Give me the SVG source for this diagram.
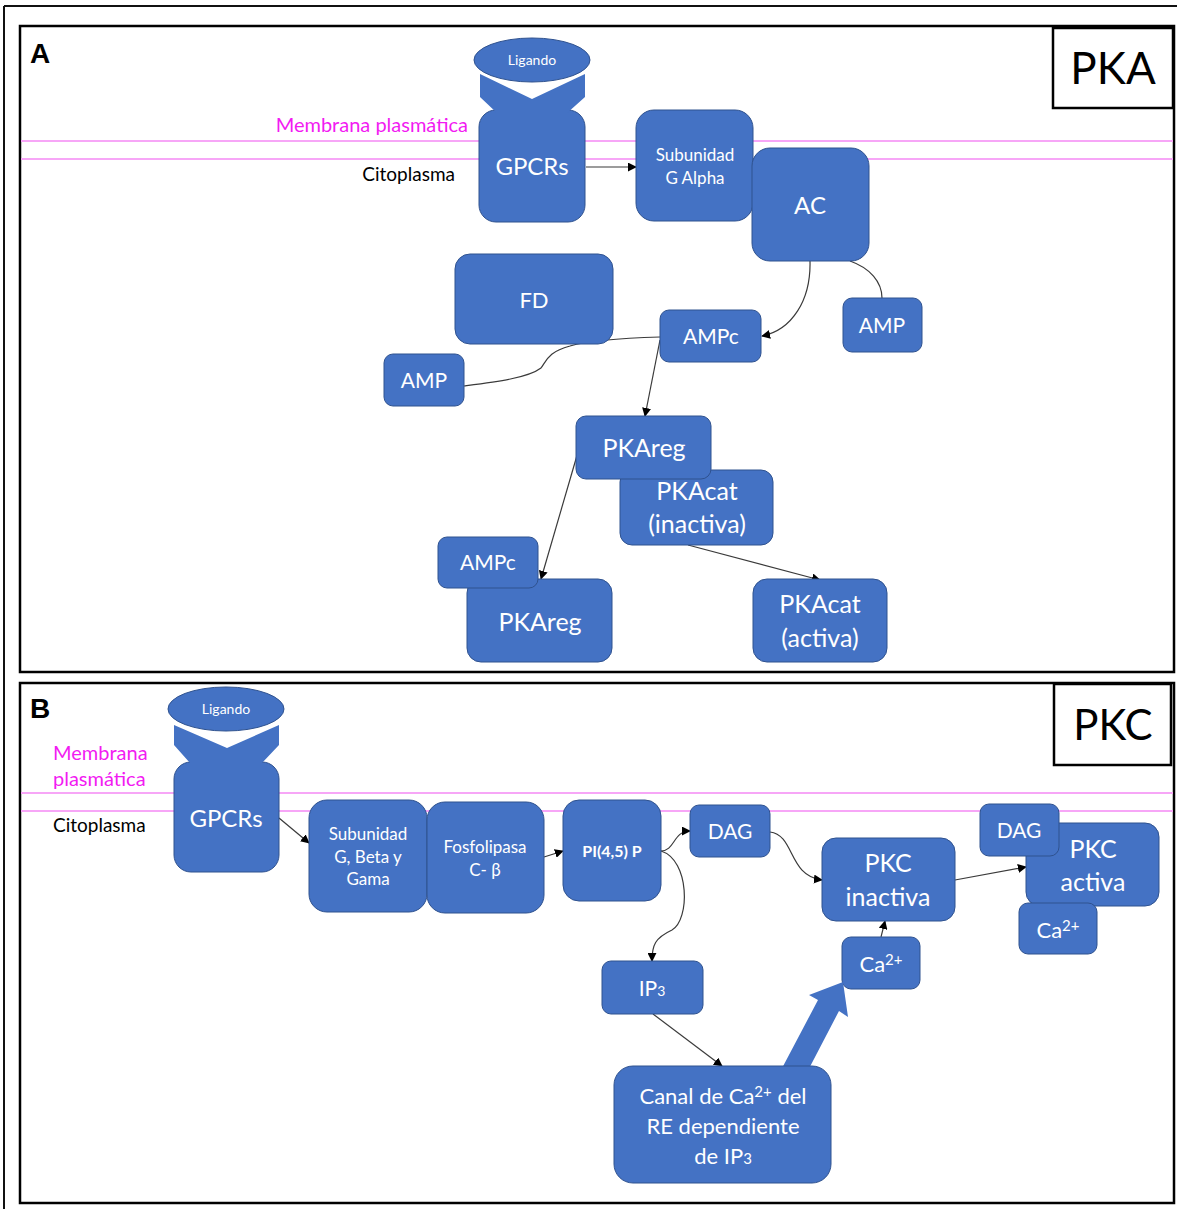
<svg xmlns="http://www.w3.org/2000/svg" width="1178" height="1209" viewBox="0 0 1178 1209">
<defs>
<style>
.node{fill:#4472C4;stroke:#2F528F;stroke-width:1}
.t{fill:#fff;font-family:Lato,"Noto Sans",sans-serif;text-anchor:middle}
.frame{fill:none;stroke:#000;stroke-width:2.5}
.mem{stroke:#F7A6F7;stroke-width:2}
.mag{fill:#F21BF2;font-family:Lato,"Noto Sans",sans-serif;font-size:20px}
.blk{fill:#000;font-family:Lato,"Noto Sans",sans-serif;font-size:19px}
.c{fill:none;stroke:#3a3a3a;stroke-width:1.2}
.ca{fill:none;stroke:#3a3a3a;stroke-width:1.2;marker-end:url(#ah)}
</style>
<marker id="ah" viewBox="0 0 10 10" refX="9" refY="5" markerWidth="9" markerHeight="9" markerUnits="userSpaceOnUse" orient="auto">
<path d="M0,0 L10,5 L0,10 z" fill="#000"/>
</marker>
</defs>
<rect width="1178" height="1209" fill="#fff"/>
<line x1="4" y1="6" x2="1177" y2="6" stroke="#111" stroke-width="2"/>
<line x1="4" y1="6" x2="4" y2="1209" stroke="#111" stroke-width="2"/>

<g id="panelA">
<rect class="frame" x="20" y="26" width="1154" height="646"/>
<text x="30" y="63" font-family="Liberation Sans,Arial,sans-serif" font-weight="bold" font-size="28">A</text>
<rect x="1053" y="28" width="120" height="80" fill="#fff" stroke="#000" stroke-width="2.5"/>
<text x="1113" y="84" font-family="Lato,'Noto Sans',sans-serif" font-size="44" text-anchor="middle" fill="#000">PKA</text>
<line class="mem" x1="21" y1="141" x2="1173" y2="141"/>
<line class="mem" x1="21" y1="159" x2="1173" y2="159"/>
<text class="mag" x="468" y="132" text-anchor="end">Membrana plasmática</text>
<text class="blk" x="455" y="181" text-anchor="end">Citoplasma</text>
</g>

<g id="connectorsA">
<path class="ca" d="M586,167 L636,167"/>
<path class="ca" d="M810,261 C811,300 792,330 762,336"/>
<path class="c" d="M850,261 C870,268 882,282 882,298"/>
<path class="c" d="M660,337 C625,338 590,340 570,346 C548,352 547,360 541,368 C528,378 495,382 464,386"/>
<path class="ca" d="M660,340 L645,416"/>
<path class="ca" d="M578,452 L541,579"/>
<path class="ca" d="M688,545 L820,580"/>
</g>

<g id="gpcrA">
<rect class="node" x="479" y="110" width="106" height="112" rx="17"/>
<polygon points="480,74 532,99 585,74 585,97 566,114 498,114 480,97" fill="#4472C4"/>
<ellipse class="node" cx="532" cy="60" rx="58" ry="22"/>
<text class="t" x="532" y="65" font-size="14">Ligando</text>
<text class="t" x="532" y="175" font-size="24">GPCRs</text>
</g>
<g id="subAlpha">
<rect class="node" x="636" y="110" width="117" height="111" rx="18"/>
<text class="t" x="695" y="161" font-size="17">Subunidad</text>
<text class="t" x="695" y="184" font-size="17">G Alpha</text>
</g>
<g id="AC">
<rect class="node" x="752" y="148" width="117" height="113" rx="18"/>
<text class="t" x="810" y="214" font-size="24">AC</text>
</g>
<g id="FD">
<rect class="node" x="455" y="254" width="158" height="90" rx="15"/>
<text class="t" x="534" y="308" font-size="22">FD</text>
</g>
<g id="AMPc1">
<rect class="node" x="660" y="310" width="101" height="52" rx="9"/>
<text class="t" x="711" y="344" font-size="21">AMPc</text>
</g>
<g id="AMP1">
<rect class="node" x="843" y="298" width="79" height="54" rx="9"/>
<text class="t" x="882" y="333" font-size="21">AMP</text>
</g>
<g id="AMP2">
<rect class="node" x="384" y="354" width="80" height="52" rx="9"/>
<text class="t" x="424" y="388" font-size="21">AMP</text>
</g>
<g id="PKAcatInactiva">
<rect class="node" x="620" y="470" width="153" height="75" rx="12"/>
<text class="t" x="697" y="500" font-size="25">PKAcat</text>
<text class="t" x="697" y="533" font-size="25">(inactiva)</text>
</g>
<g id="PKAreg1">
<rect class="node" x="576" y="416" width="135" height="63" rx="10"/>
<text class="t" x="644" y="457" font-size="25">PKAreg</text>
</g>
<g id="PKAreg2">
<rect class="node" x="467" y="579" width="145" height="83" rx="14"/>
<text class="t" x="540" y="631" font-size="25">PKAreg</text>
</g>
<g id="AMPc2">
<rect class="node" x="438" y="537" width="100" height="51" rx="9"/>
<text class="t" x="488" y="570" font-size="21">AMPc</text>
</g>
<g id="PKAcatActiva">
<rect class="node" x="753" y="579" width="134" height="83" rx="14"/>
<text class="t" x="820" y="613" font-size="25">PKAcat</text>
<text class="t" x="820" y="647" font-size="25">(activa)</text>
</g>

<g id="panelB">
<rect class="frame" x="20" y="683" width="1154" height="520"/>
<text x="30" y="718" font-family="Liberation Sans,Arial,sans-serif" font-weight="bold" font-size="28">B</text>
<rect x="1054" y="684" width="117" height="81" fill="#fff" stroke="#000" stroke-width="2.5"/>
<text x="1113" y="740" font-family="Lato,'Noto Sans',sans-serif" font-size="42" text-anchor="middle" fill="#000">PKC</text>
<line class="mem" x1="21" y1="793" x2="1173" y2="793"/>
<line class="mem" x1="21" y1="811" x2="1173" y2="811"/>
<text class="mag" x="53" y="760">Membrana</text>
<text class="mag" x="53" y="786">plasmática</text>
<text class="blk" x="53" y="832">Citoplasma</text>
</g>

<g id="connectorsB">
<path class="ca" d="M279,818 L309,843"/>
<path class="ca" d="M544,857 L563,851"/>
<path class="ca" d="M661,851 C675,851 673,831 690,831"/>
<path class="ca" d="M661,851 C690,860 690,920 672,930 C655,938 652,945 652,961"/>
<path class="ca" d="M770,832 C795,835 788,876 822,880"/>
<path class="ca" d="M881,937 L885,921"/>
<path class="ca" d="M955,880 L1026,867"/>
<path class="ca" d="M653,1014 L722,1066"/>
</g>

<g id="gpcrB">
<rect class="node" x="174" y="762" width="105" height="110" rx="17"/>
<polygon points="174,725 227,748 279,725 279,745 262,763 190,763 174,745" fill="#4472C4"/>
<ellipse class="node" cx="226" cy="709" rx="58" ry="22"/>
<text class="t" x="226" y="714" font-size="14">Ligando</text>
<text class="t" x="226" y="827" font-size="24">GPCRs</text>
</g>
<g id="subBG">
<rect class="node" x="309" y="800" width="118" height="112" rx="18"/>
<text class="t" x="368" y="840" font-size="17">Subunidad</text>
<text class="t" x="368" y="863" font-size="17">G, Beta y</text>
<text class="t" x="368" y="885" font-size="17">Gama</text>
</g>
<g id="PLC">
<rect class="node" x="427" y="802" width="117" height="111" rx="18"/>
<text class="t" x="485" y="853" font-size="17">Fosfolipasa</text>
<text class="t" x="485" y="876" font-size="17">C- β</text>
</g>
<g id="PIP2">
<rect class="node" x="563" y="800" width="98" height="101" rx="16"/>
<text class="t" x="612" y="857" font-size="16" font-weight="bold" font-family="Liberation Sans,Arial,sans-serif">PI(4,5) P</text>
</g>
<g id="DAG1">
<rect class="node" x="690" y="805" width="80" height="52" rx="9"/>
<text class="t" x="730" y="839" font-size="21">DAG</text>
</g>
<g id="PKCinactiva">
<rect class="node" x="822" y="838" width="133" height="83" rx="14"/>
<text class="t" x="888" y="872" font-size="25">PKC</text>
<text class="t" x="888" y="906" font-size="25">inactiva</text>
</g>
<g id="PKCactiva">
<rect class="node" x="1026" y="823" width="133" height="83" rx="14"/>
<text class="t" x="1093" y="858" font-size="25">PKC</text>
<text class="t" x="1093" y="891" font-size="25">activa</text>
</g>
<g id="DAG2">
<rect class="node" x="980" y="804" width="79" height="52" rx="9"/>
<text class="t" x="1019" y="838" font-size="21">DAG</text>
</g>
<g id="Ca1">
<rect class="node" x="1019" y="903" width="78" height="51" rx="9"/>
<text class="t" x="1058" y="938" font-size="22">Ca<tspan font-size="15" dy="-7">2+</tspan></text>
</g>
<g id="Ca2">
<rect class="node" x="842" y="937" width="78" height="52" rx="9"/>
<text class="t" x="881" y="972" font-size="22">Ca<tspan font-size="15" dy="-7">2+</tspan></text>
</g>
<g id="IP3">
<rect class="node" x="602" y="961" width="101" height="53" rx="9"/>
<text class="t" x="652" y="996" font-size="21">IP<tspan font-size="14">3</tspan></text>
</g>
<g id="blockArrow">
<polygon points="780,1072 818,1000 809,995 843,982 848,1017 839,1011 802,1082" fill="#4472C4"/>
</g>
<g id="canal">
<rect class="node" x="614" y="1066" width="217" height="117" rx="19"/>
<text class="t" x="723" y="1104" font-size="22">Canal de Ca<tspan font-size="15" dy="-7">2+</tspan><tspan dy="7"> del</tspan></text>
<text class="t" x="723" y="1134" font-size="22">RE dependiente</text>
<text class="t" x="723" y="1164" font-size="22">de IP<tspan font-size="15">3</tspan></text>
</g>
</svg>
